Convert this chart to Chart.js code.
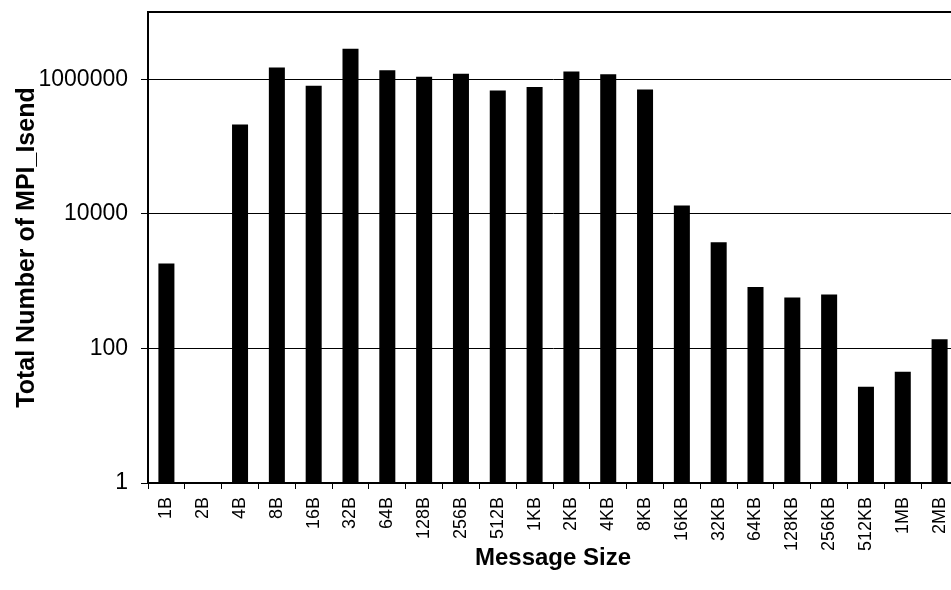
<!DOCTYPE html>
<html>
<head>
<meta charset="utf-8">
<script src="https://cdn.jsdelivr.net/npm/chart.js@4"></script>
<style>
  html, body { margin: 0; padding: 0; overflow: hidden; background: #fff; }
  #wrap { width: 970px; height: 590px; }
</style>
</head>
<body>
<div id="wrap"><canvas id="mpiChart" width="970" height="590"></canvas></div>
<script>
// message sizes and counts
const sizes = ['1B', '2B', '4B', '8B', '16B', '32B', '64B', '128B', '256B', '512B', '1KB',
    '2KB', '4KB', '8KB', '16KB', '32KB', '64KB', '128KB', '256KB', '512KB', '1MB', '2MB'];
const isendCounts = [1830, null, 213000, 1500000, 800000, 2850000, 1360000, 1090000, 1210000, 684000, 767000,
    1310000, 1190000, 704000, 13300, 3770, 818, 569, 633, 27, 45, 137];
const yTicks = [1, 100, 10000, 1000000, 10000000];

const FONT = "'Liberation Sans', Arial, sans-serif";

// frame round the plot area (top and right side)
const framePlugin = {
    id: 'frame',
    afterDraw(chart) {
        const a = chart.chartArea;
        const c = chart.ctx;
        c.save();
        c.strokeStyle = '#000';
        c.lineWidth = 2;
        c.strokeRect(a.left, a.top, a.right - a.left, a.bottom - a.top);
        c.restore();
    }
};

const ctx = document.getElementById('mpiChart').getContext('2d');
const mpiChart = new Chart(ctx, {
    type: 'bar',
    data: {
        labels: sizes,
        datasets: [{
            label: 'MPI_Isend',
            data: isendCounts,
            backgroundColor: '#000',
            borderWidth: 0,
            barPercentage: 0.435,
            categoryPercentage: 1.0
        }]
    },
    options: {
        responsive: false,
        animation: false,
        layout: { padding: { top: 12, right: 12, left: 0, bottom: 0 } },
        plugins: {
            legend: { display: false },
            tooltip: { enabled: false }
        },
        scales: {
            x: {
                grid: {
                    offset: true,
                    drawOnChartArea: false,
                    tickLength: 6,
                    color: '#000',
                    tickColor: '#000'
                },
                border: { color: '#000', width: 2 },
                ticks: {
                    color: '#000',
                    minRotation: 90,
                    maxRotation: 90,
                    padding: 8,
                    autoSkip: false,
                    font: { family: FONT, size: 18 }
                },
                title: {
                    display: true,
                    text: 'Message Size',
                    color: '#000',
                    padding: { top: 0, bottom: 17 },
                    font: { family: FONT, size: 24, weight: 'bold' }
                },
                afterFit(scale) {
                    scale.height = 107;
                    scale.paddingLeft = 0;
                    scale.paddingRight = 0;
                }
            },
            y: {
                type: 'logarithmic',
                min: 1,
                max: 10000000,
                afterBuildTicks(scale) {
                    scale.ticks = yTicks.map(v => ({ value: v }));
                },
                grid: {
                    color: c => (c.tick && c.tick.value === 10000000) ? 'rgba(0,0,0,0)' : '#000',
                    tickColor: c => (c.tick && c.tick.value === 10000000) ? 'rgba(0,0,0,0)' : '#000',
                    tickLength: 7,
                    lineWidth: 1
                },
                border: { color: '#000', width: 2 },
                ticks: {
                    color: '#000',
                    padding: 13,
                    font: { family: FONT, size: 23 },
                    callback: v => (v === 10000000 ? '' : String(v))
                },
                title: {
                    display: true,
                    text: 'Total Number of MPI_Isend',
                    color: '#000',
                    padding: { top: 12, bottom: 0 },
                    font: { family: FONT, size: 25, weight: 'bold' }
                },
                afterFit(scale) {
                    scale.width = 148;
                    scale.paddingTop = 0;
                    scale.paddingBottom = 0;
                }
            }
        }
    },
    plugins: [framePlugin]
});
</script>
</body>
</html>
